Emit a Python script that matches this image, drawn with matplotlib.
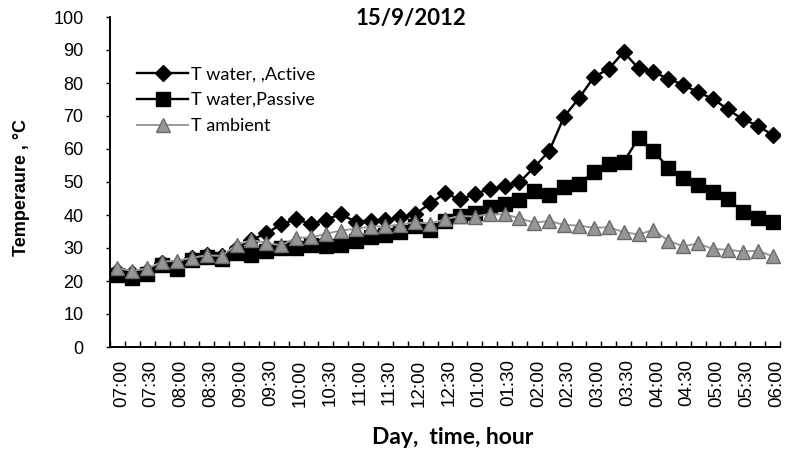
import numpy as np
import matplotlib
matplotlib.use("Agg")
import matplotlib.pyplot as plt
from matplotlib.transforms import ScaledTranslation

# readings every 15 min, 07:00 am -> 06:00 pm (15/9/2012)
active = [23.0, 22.5, 23.0, 25.5, 25.0, 27.0, 28.0, 27.5, 30.0, 32.5,
          34.4, 37.2, 38.7, 37.3, 38.6, 40.2, 38.0, 38.3, 38.5, 39.3,
          40.3, 43.5, 46.6, 44.7, 46.3, 47.9, 48.7, 49.9, 54.5, 59.4,
          69.8, 75.4, 81.8, 84.3, 89.4, 84.4, 83.3, 81.3, 79.4, 77.2,
          75.2, 72.0, 69.0, 67.1, 64.2]
passive = [21.8, 21.0, 22.0, 24.9, 23.5, 26.4, 27.4, 26.7, 28.6, 27.8,
           29.2, 30.0, 29.9, 31.0, 30.6, 30.9, 32.2, 33.2, 33.9, 34.7,
           36.6, 35.5, 38.3, 39.7, 40.5, 42.4, 43.2, 44.5, 47.4, 46.2,
           48.4, 49.4, 53.1, 55.4, 56.0, 63.4, 59.4, 54.3, 51.3, 49.1,
           46.9, 44.9, 41.0, 39.1, 37.9]
ambient = [23.9, 23.1, 23.8, 25.8, 26.2, 27.0, 27.8, 27.6, 31.0, 32.4,
           31.6, 30.8, 33.1, 33.2, 34.3, 35.3, 35.8, 36.5, 36.6, 37.1,
           37.8, 37.4, 38.7, 39.7, 39.5, 40.3, 40.2, 39.0, 37.7, 38.2,
           37.0, 36.8, 36.1, 36.3, 34.8, 34.1, 35.5, 32.2, 30.5, 31.4,
           29.7, 29.5, 28.9, 29.2, 27.5]
time_labels = ["07:00", "07:30", "08:00", "08:30", "09:00", "09:30", "10:00",
               "10:30", "11:00", "11:30", "12:00", "12:30", "01:00", "01:30",
               "02:00", "02:30", "03:00", "03:30", "04:00", "04:30", "05:00",
               "05:30", "06:00"]

x = np.arange(len(active))

fig = plt.figure(figsize=(7.85, 4.57), dpi=100)
ax = fig.add_axes([110 / 785, 1 - 347 / 457, 670 / 785, 330 / 457])

ax.plot(x, active, color="black", lw=1.7, marker="D", ms=8.5,
        label="T water, ,Active")
ax.plot(x, passive, color="black", lw=1.7, marker="s", ms=9.5,
        label="T water,Passive")
ax.plot(x, ambient, color="#9a9a9a", lw=1.4, marker="^", ms=10,
        mfc="#969696", mec="#6a6a6a", label="T ambient")

ax.set_xlim(-0.5, len(active) - 0.5)
ax.set_ylim(0, 100)
ax.set_yticks(np.arange(0, 101, 10))
ax.set_xticks(x[::2])
ax.set_xticklabels(time_labels, rotation=90, fontsize=13.5,
                   family="Liberation Sans")
ax.set_xticks(np.arange(-0.5, len(active)), minor=True)
ax.tick_params(axis="x", which="major", length=0, pad=9)
ax.tick_params(axis="x", which="minor", direction="in", length=4, width=1)
ax.tick_params(axis="y", direction="out", length=3, width=1, pad=16)
for lab in ax.get_yticklabels():
    lab.set_fontsize(13)
    lab.set_family("Liberation Sans")
shift = ScaledTranslation(0.04, 0, fig.dpi_scale_trans)
for lab in ax.get_xticklabels():
    lab.set_transform(lab.get_transform() + shift)

for side in ["top", "right"]:
    ax.spines[side].set_visible(False)
for side in ["left", "bottom"]:
    ax.spines[side].set_linewidth(1.4)

fig.text(411 / 785, 1 - 19 / 457, "15/9/2012", ha="center", va="center",
         fontsize=16, fontweight="bold", family="Lato")
fig.text(453 / 785, 1 - 437 / 457, "Day,  time, hour", ha="center",
         va="center", fontsize=16.5, fontweight="bold", family="Lato")
fig.text(22 / 785, 1 - 188 / 457, "Temperaure , \u00b0C", ha="center",
         va="center", rotation=90, fontsize=13, fontweight="bold",
         family="Liberation Sans")

ax.legend(loc="upper left", bbox_to_anchor=(0.03, 0.873), frameon=False,
          prop={"family": "Lato", "size": 13}, handlelength=2.8,
          handletextpad=0.2, labelspacing=0.55, borderaxespad=0)

fig.savefig("out.png", dpi=100)
